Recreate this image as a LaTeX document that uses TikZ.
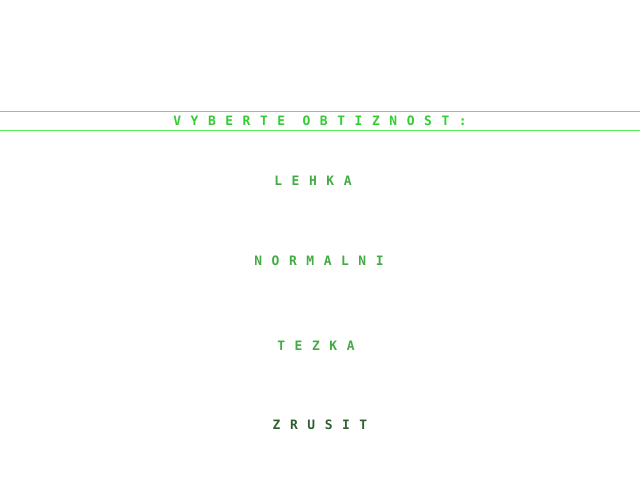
\documentclass[tikz,border=0pt]{standalone}
\usepackage{fontspec}
\usepackage{tikz}
\newfontfamily\menufont[LetterSpace=74]{DejaVu Sans Mono}
\definecolor{menuline}{HTML}{55EE55}
\definecolor{headgreen}{HTML}{33CC33}
\definecolor{itemgreen}{HTML}{44AA44}
\definecolor{cancelgreen}{HTML}{2F5F2F}

\begin{document}
\begin{tikzpicture}[x=0.025cm, y=-0.025cm, every node/.style={inner sep=0pt, font=\menufont\bfseries\fontsize{9.2}{10}\selectfont}]
  \useasboundingbox (0,0) rectangle (640,480);
  \draw [menuline, line width=0.7pt] (0,111) -- (640,111);
  \draw [menuline, line width=0.7pt] (0,130) -- (640,130);
  \node (title) [text=headgreen] at (320, 121) {VYBERTE OBTIZNOST:};
  \node (easy) [text=itemgreen] at (313, 181) {LEHKA};
  \node (normal) [text=itemgreen] at (319, 261) {NORMALNI};
  \node (hard) [text=itemgreen] at (316, 346) {TEZKA};
  \node (cancel) [text=cancelgreen] at (320, 425) {ZRUSIT};
\end{tikzpicture}
\end{document}
